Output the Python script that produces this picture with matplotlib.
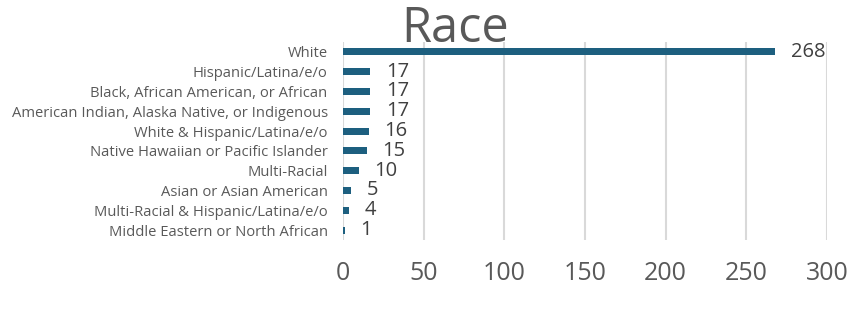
import matplotlib.pyplot as plt

plt.rcParams['font.family'] = ['Open Sans', 'DejaVu Sans']

categories = ['White', 'Hispanic/Latina/e/o', 'Black, African American, or African',
              'American Indian, Alaska Native, or Indigenous', 'White & Hispanic/Latina/e/o',
              'Native Hawaiian or Pacific Islander', 'Multi-Racial', 'Asian or Asian American',
              'Multi-Racial & Hispanic/Latina/e/o', 'Middle Eastern or North African']
counts = [268, 17, 17, 17, 16, 15, 10, 5, 4, 1]
xticks = [0, 50, 100, 150, 200, 250, 300]

text_color = '#595959'
bar_color = '#1d5f7f'

fig = plt.figure(figsize=(8.65, 3.18), dpi=100)
ax = fig.add_axes([343 / 865, 1 - 240 / 318, (827 - 343) / 865, (240 - 42) / 318])

y = list(range(len(categories)))
ax.barh(y, counts, height=0.35, color=bar_color, zorder=3)
ax.set_ylim(len(categories) - 0.5, -0.5)
ax.set_xlim(0, 300)
ax.set_xticks(xticks)
ax.set_yticks(y)
ax.set_yticklabels(categories, fontsize=10.6, color=text_color)
ax.tick_params(axis='y', length=0, pad=11)
ax.tick_params(axis='x', length=0, pad=15, labelsize=18, labelcolor=text_color)
ax.grid(axis='x', color='#d9d9d9', linewidth=1.5, zorder=0)

for s in ax.spines.values():
    s.set_visible(False)

for i, v in enumerate(counts):
    ax.annotate(str(v), (v, i), xytext=(11, 0), textcoords='offset points',
                va='center', ha='left', fontsize=14.5, color='#404040')

fig.text(455 / 865, 1 - 42 / 318, 'Race', ha='center', va='baseline',
         fontsize=35, color=text_color)

fig.savefig('out.png', dpi=100)
